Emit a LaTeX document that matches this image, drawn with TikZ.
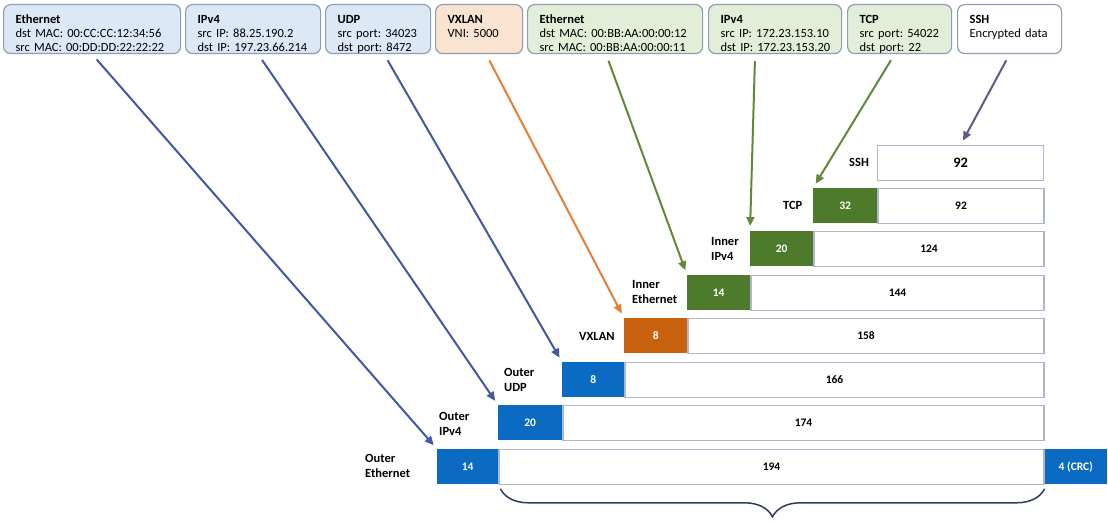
\documentclass[tikz,border=0pt]{standalone}
\usepackage{fontspec}
\setmainfont{Carlito}
\usetikzlibrary{positioning, arrows.meta, decorations.pathreplacing}

\definecolor{hdrblue}{HTML}{0B6BC2}
\definecolor{hdrorange}{HTML}{C9620F}
\definecolor{hdrgreen}{HTML}{4E7A2C}
\definecolor{paleblue}{HTML}{DCE8F5}
\definecolor{palepeach}{HTML}{FBE3D2}
\definecolor{palegreen}{HTML}{E2EED8}
\definecolor{boxline}{HTML}{8E9DB2}
\definecolor{barline}{HTML}{AEB8CC}
\definecolor{arrblue}{HTML}{4258A3}
\definecolor{arrorange}{HTML}{E57F35}
\definecolor{arrgreen}{HTML}{62883A}
\definecolor{arrgray}{HTML}{5B5D85}
\definecolor{bracecol}{HTML}{2E3C5E}

\tikzset{
    protobox/.style={draw=boxline, line width=1.2pt, rounded corners=7pt, anchor=north west,
        align=left, inner xsep=12pt, inner ysep=0pt, font=\fontsize{12.5}{14}\selectfont,
        execute at begin node={\rule{0pt}{18.5pt}},
        execute at end node={\rule[-2.5pt]{0pt}{2.5pt}}},
    fieldbox/.style={anchor=north west, minimum height=35pt, inner sep=0pt, text=white,
        font=\fontsize{11.5}{13}\selectfont\bfseries},
    paybox/.style={minimum height=35pt, inner sep=0pt, draw=barline, line width=1.2pt, fill=white,
        font=\fontsize{11.5}{13}\selectfont\bfseries},
    layername/.style={anchor=west, align=left, inner sep=0pt, font=\fontsize{12.5}{15}\selectfont\bfseries},
    fieldarrow/.style={line width=2pt, -{Triangle[length=9pt,width=8pt]}, shorten <=7pt, shorten >=5pt},
    bracedeco/.style={draw=bracecol, line width=1.5pt, decorate,
        decoration={brace, mirror, amplitude=28pt, aspect=0.5}}
}

\begin{document}
\begin{tikzpicture}[x=1pt, y=-1pt]
                \fill[white] (0,0) rectangle (1108,524);
                \useasboundingbox (0,0) rectangle (1108,524);

                %Headers on top
                \node[protobox, fill=paleblue, text width=153pt] at (3,4) (oeth) {\textbf{Ethernet}\\dst~MAC:~00:CC:CC:12:34:56\\src~MAC:~00:DD:DD:22:22:22};
                \node[protobox, fill=paleblue, text width=111pt] at (185,4) (oip) {\textbf{IPv4}\\src~IP:~88.25.190.2\\dst~IP:~197.23.66.214};
                \node[protobox, fill=paleblue, text width=81pt] at (325,4) (oudp) {\textbf{UDP}\\src~port:~34023\\dst~port:~8472};
                \node[protobox, fill=palepeach, text width=63pt] at (435,4) (vxlan) {\textbf{VXLAN}\\VNI:~5000\\\mbox{}};
                \node[protobox, fill=palegreen, text width=151pt] at (527,4) (ieth) {\textbf{Ethernet}\\dst~MAC:~00:BB:AA:00:00:12\\src~MAC:~00:BB:AA:00:00:11};
                \node[protobox, fill=palegreen, text width=109pt] at (708,4) (iip) {\textbf{IPv4}\\src~IP:~172.23.153.10\\dst~IP:~172.23.153.20};
                \node[protobox, fill=palegreen, text width=80pt] at (847,4) (tcp) {\textbf{TCP}\\src~port:~54022\\dst~port:~22};
                \node[protobox, fill=white, text width=80pt] at (957,4) (ssh) {\textbf{SSH}\\Encrypted~data\\\mbox{}};

                %Frame rows
                \node[fieldbox, fill=hdrblue, minimum width=61pt] at (437,449) (oethH) {14};
                \node[paybox, minimum width=545pt, right=0pt of oethH] (oethP) {194};
                \node[fieldbox, fill=hdrblue, minimum width=62pt, right=0pt of oethP] (crc) {4 (CRC)};
                \node[fieldbox, fill=hdrblue, minimum width=64pt] at (498,405) (oipH) {20};
                \node[paybox, minimum width=481pt, right=0pt of oipH] (oipP) {174};
                \node[fieldbox, fill=hdrblue, minimum width=62pt] at (562,362) (oudpH) {8};
                \node[paybox, minimum width=419pt, right=0pt of oudpH] (oudpP) {166};
                \node[fieldbox, fill=hdrorange, minimum width=63pt] at (624,318) (vxlanH) {8};
                \node[paybox, minimum width=356pt, right=0pt of vxlanH] (vxlanP) {158};
                \node[fieldbox, fill=hdrgreen, minimum width=63pt] at (687,275) (iethH) {14};
                \node[paybox, minimum width=293pt, right=0pt of iethH] (iethP) {144};
                \node[fieldbox, fill=hdrgreen, minimum width=63pt] at (750,231) (iipH) {20};
                \node[paybox, minimum width=230pt, right=0pt of iipH] (iipP) {124};
                \node[fieldbox, fill=hdrgreen, minimum width=64pt] at (813,188) (tcpH) {32};
                \node[paybox, minimum width=166pt, right=0pt of tcpH] (tcpP) {92};
                \node[paybox, anchor=north west, minimum width=166pt, font=\fontsize{14.5}{16}\selectfont\bfseries] at (877,145) (sshP) {92};

                %Row names
                \node[layername] at (849,162) (sshL) {SSH};
                \node[layername] at (783,205) (tcpL) {TCP};
                \node[layername] at (711,249) (iipL) {Inner\\IPv4};
                \node[layername] at (632,292) (iethL) {Inner\\Ethernet};
                \node[layername] at (579,336) (vxlanL) {VXLAN};
                \node[layername] at (504,380) (oudpL) {Outer\\UDP};
                \node[layername] at (439,424) (oipL) {Outer\\IPv4};
                \node[layername] at (365,466) (oethL) {Outer\\Ethernet};

                %Arrows
                \draw[fieldarrow, arrblue] (oeth.south) -- (oethH.north west);
                \draw[fieldarrow, arrblue] ([xshift=5pt]oip.south) -- (oipH.north west);
                \draw[fieldarrow, arrblue] ([xshift=6pt]oudp.south) -- (oudpH.north west);
                \draw[fieldarrow, arrorange] ([xshift=7pt]vxlan.south) -- (vxlanH.north west);
                \draw[fieldarrow, arrgreen] ([xshift=-9pt]ieth.south) -- (iethH.north west);
                \draw[fieldarrow, arrgreen] ([xshift=-20pt]iip.south) -- (iipH.north west);
                \draw[fieldarrow, arrgreen] ([xshift=-5pt]tcp.south) -- (tcpH.north west);
                \draw[fieldarrow, arrgray] (ssh.south) -- (sshP.north);

                %Brace
                \draw[bracedeco] (oethP.south west) ++(2,4) -- ([yshift=-4pt]oethP.south east);
            \end{tikzpicture}
\end{document}
